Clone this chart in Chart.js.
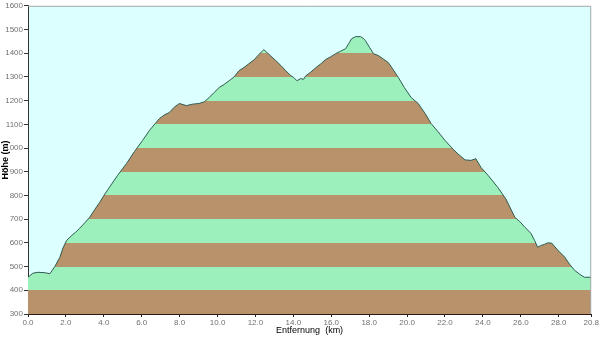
<!doctype html>
<html lang="de">
<head>
<meta charset="utf-8">
<style>
  * { margin: 0; padding: 0; }
  body { background: #fff; }
  .chartBox { width: 600px; height: 337px; }
</style>
</head>
<body>
<div class="chartBox"><canvas id="myChart"></canvas></div>
<script src="https://cdn.jsdelivr.net/npm/chart.js"></script>
<script>
  // profile: distance (km) and elevation (m)
  const entfernung = [0, 0.18, 0.37, 0.63, 0.81, 0.99, 1.18, 1.29, 1.43, 1.62, 1.76, 1.91, 2.10, 2.28, 2.46, 2.65,
    2.76, 3.01, 3.31, 3.64, 3.93, 4.23, 4.49, 4.85, 5.04, 5.22, 5.40, 5.59, 5.85, 6.07, 6.32, 6.51, 6.69, 6.88,
    7.06, 7.24, 7.43, 7.61, 7.79, 7.98, 8.16, 8.35, 8.53, 8.71, 8.90, 9.15, 9.34, 9.52, 9.71, 9.82, 9.93, 10.07,
    10.18, 10.26, 10.44, 10.63, 10.81, 10.99, 11.18, 11.36, 11.54, 11.73, 11.84, 11.95, 12.10, 12.28, 12.39,
    12.46, 12.61, 12.76, 12.94, 13.13, 13.31, 13.49, 13.68, 13.90, 14.15, 14.41, 14.67, 14.89, 15.15, 15.40,
    15.70, 15.88, 16.14, 16.36, 16.54, 16.73, 16.99, 17.35, 17.65, 17.98, 18.16, 18.35, 18.57, 18.71, 18.82,
    18.97, 19.08, 19.19, 19.34, 19.56, 19.82, 20.00, 20.18, 20.37, 20.55, 20.8]
  const hoehe = [455, 472, 476, 474, 470, 500, 540, 578, 611, 632, 645, 662, 685, 708, 740, 771,
    792, 835, 885, 935, 985, 1032, 1075, 1124, 1140, 1150, 1172, 1188, 1179, 1185, 1188, 1195, 1213, 1235,
    1255, 1268, 1284, 1300, 1326, 1340, 1356, 1372, 1395, 1415, 1395, 1369, 1348, 1326, 1305, 1297, 1284, 1293,
    1290, 1305, 1320, 1339, 1355, 1373, 1385, 1398, 1408, 1419, 1440, 1461, 1470, 1470, 1462,
    1453, 1425, 1398, 1390, 1375, 1360, 1330, 1297, 1255, 1213, 1188, 1145, 1103, 1068, 1032,
    995, 975, 950, 948, 955, 918, 885, 834, 785, 708, 690, 666, 641, 610, 582,
    590, 594, 600, 599, 570, 540, 510, 485, 468, 455, 455]

  // x ticks sit every 1.4 km but carry these labels
  const xTicks = [0, 1.4, 2.8, 4.2, 5.6, 7.0, 8.4, 9.8, 11.2, 12.6, 14.0, 15.4, 16.8, 18.2, 19.6, 20.8]
  const xTickLabels = ['0.0', '2.0', '4.0', '6.0', '8.0', '10.0', '12.0', '14.0', '16.0', '18.0',
    '20.0', '22.0', '24.0', '26.0', '28.0', '20.8']
  const yMin = 300
  const yMax = 1600
  const bandStep = 100

  const brown = '#b8926a'
  const green = '#9cf0bc'
  const skyColor = '#dcffff'

  function stripes(context) {
    const chart = context.chart
    const area = chart.chartArea
    if (!area) return brown
    const y = chart.scales.y
    const bottom = y.getPixelForValue(yMin)
    const top = y.getPixelForValue(yMax)
    const grad = chart.ctx.createLinearGradient(0, bottom, 0, top)
    for (let v = yMin, i = 0; v < yMax; v += bandStep, i++) {
      const col = i % 2 == 0 ? brown : green
      const a = (y.getPixelForValue(v) - bottom) / (top - bottom)
      const b = (y.getPixelForValue(v + bandStep) - bottom) / (top - bottom)
      grad.addColorStop(Math.min(Math.max(a, 0), 1), col)
      grad.addColorStop(Math.min(Math.max(b, 0), 1), col)
    }
    return grad
  }

  const plotBg = {
    id: 'plotBg',
    beforeDraw(chart) {
      const { ctx, chartArea: a } = chart
      ctx.save()
      ctx.fillStyle = skyColor
      ctx.fillRect(a.left, a.top, a.right - a.left, a.bottom - a.top)
      ctx.restore()
    },
    afterDatasetsDraw(chart) {
      const { ctx, chartArea: a } = chart
      ctx.save()
      ctx.strokeStyle = '#a8a8a8'
      ctx.lineWidth = 1
      ctx.beginPath()
      ctx.moveTo(a.left, a.top + 0.5)
      ctx.lineTo(a.right - 0.5, a.top + 0.5)
      ctx.lineTo(a.right - 0.5, a.bottom)
      ctx.stroke()
      ctx.restore()
    }
  }

  const tickFont = { family: "'Liberation Sans Narrow', 'Liberation Sans', sans-serif", size: 8 }

  const data = {
    datasets: [{
      data: entfernung.map((km, i) => ({ x: km, y: hoehe[i] })),
      borderColor: '#2f5b50',
      borderWidth: 1,
      pointRadius: 0,
      fill: 'start',
      backgroundColor: stripes,
      tension: 0
    }]
  }

  const config = {
    type: 'line',
    data,
    plugins: [plotBg],
    options: {
      responsive: true,
      maintainAspectRatio: false,
      animation: false,
      layout: { padding: { top: 5, right: 6, left: 0, bottom: 0 } },
      plugins: { legend: { display: false }, tooltip: { enabled: false } },
      scales: {
        x: {
          type: 'linear',
          min: 0,
          max: 20.8,
          afterFit: s => { s.height = 23 },
          afterBuildTicks: s => { s.ticks = xTicks.map(v => ({ value: v })) },
          grid: { drawOnChartArea: false, tickLength: 3, color: '#222' },
          border: { display: true, color: '#2a1a10', width: 1 },
          ticks: {
            autoSkip: false, maxRotation: 0, padding: 1, color: '#707070', font: tickFont,
            callback: (v, i) => xTickLabels[i]
          },
          title: {
            display: true, text: 'Entfernung  (km)', color: '#000',
            font: { family: "'Liberation Sans', sans-serif", size: 9 },
            padding: { top: 0, bottom: 1 }
          }
        },
        y: {
          min: yMin,
          max: yMax,
          afterFit: s => { s.width = 28 },
          grid: { drawOnChartArea: false, tickLength: 4, color: '#333' },
          border: { display: true, color: '#333', width: 1 },
          ticks: {
            stepSize: 100, padding: 1, color: '#707070', font: tickFont,
            callback: v => String(v)
          },
          title: {
            display: true, text: 'Höhe (m)', color: '#000',
            font: { family: "'Liberation Sans', sans-serif", size: 9, weight: 'bold' },
            padding: 0
          }
        }
      }
    }
  }

  const myChart = new Chart(document.getElementById('myChart'), config)
</script>
</body>
</html>
